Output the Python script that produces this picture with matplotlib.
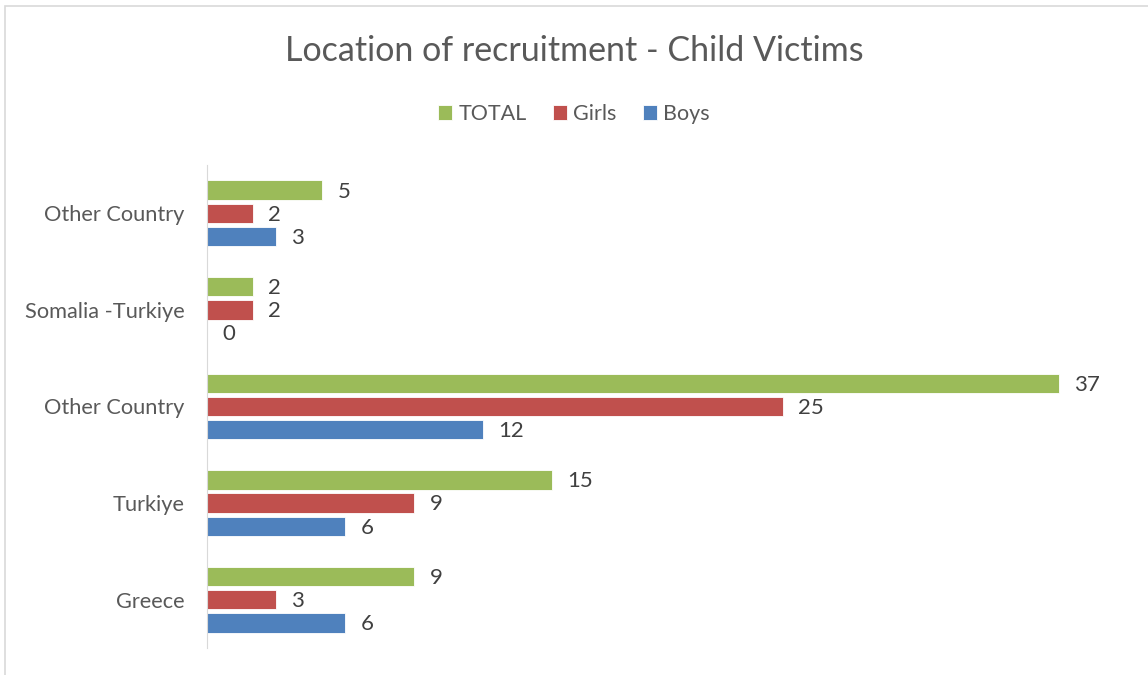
import matplotlib.pyplot as plt
from matplotlib.patches import Rectangle
import numpy as np

# dados (de baixo para cima)
categories = ["Greece", "Turkiye", "Other Country", "Somalia -Turkiye", "Other Country"]
total = [9, 15, 37, 2, 5]
girls = [3, 9, 25, 2, 2]
boys = [6, 6, 12, 0, 3]

green = "#9BBB59"
red = "#C0504D"
blue = "#4F81BD"
txt = "#595959"

plt.rcParams['font.family'] = ['Lato', 'DejaVu Sans']

fig = plt.figure(figsize=(11.48, 6.75), dpi=100)
fig.patches.append(Rectangle((5 / 1148, -0.1), 1.2, 1 - 6 / 675 + 0.1, transform=fig.transFigure,
                             fill=False, edgecolor="#D9D9D9", linewidth=1.2))
ax = fig.add_axes([207 / 1148, 1 - 648 / 675, 921 / 1148, 483 / 675])

y = np.arange(len(categories))
h = 0.2
off = 0.24
series = [(total, green, "TOTAL", off), (girls, red, "Girls", 0), (boys, blue, "Boys", -off)]
for vals, col, name, o in series:
    bars = ax.barh(y + o, vals, height=h, color=col, edgecolor="white", linewidth=0.6, label=name)
    for b, v in zip(bars, vals):
        ax.annotate(str(v), (b.get_width(), b.get_y() + b.get_height() / 2), xytext=(11, -1),
                    textcoords="offset points", va="center", ha="left", fontsize=16, color="#404040")

ax.set_xlim(0, 40)
ax.set_ylim(-0.5, 4.5)
ax.set_yticks(y)
ax.set_yticklabels(categories, fontsize=15.7, color=txt)
ax.tick_params(axis="y", length=0, pad=16)
ax.set_xticks([])
for s in ["top", "right", "bottom"]:
    ax.spines[s].set_visible(False)
ax.spines["left"].set_color("#D9D9D9")

fig.text(0.5, 1 - 51 / 675, "Location of recruitment - Child Victims", ha="center", va="center",
         fontsize=24.5, color=txt)
fig.legend(loc="center", bbox_to_anchor=(0.5, 1 - 114 / 675), ncol=3, frameon=False,
           fontsize=15.5, handlelength=0.65, handleheight=0.65, handletextpad=0.3, columnspacing=1.2,
           labelcolor=txt)

plt.savefig("out.png", dpi=100)
